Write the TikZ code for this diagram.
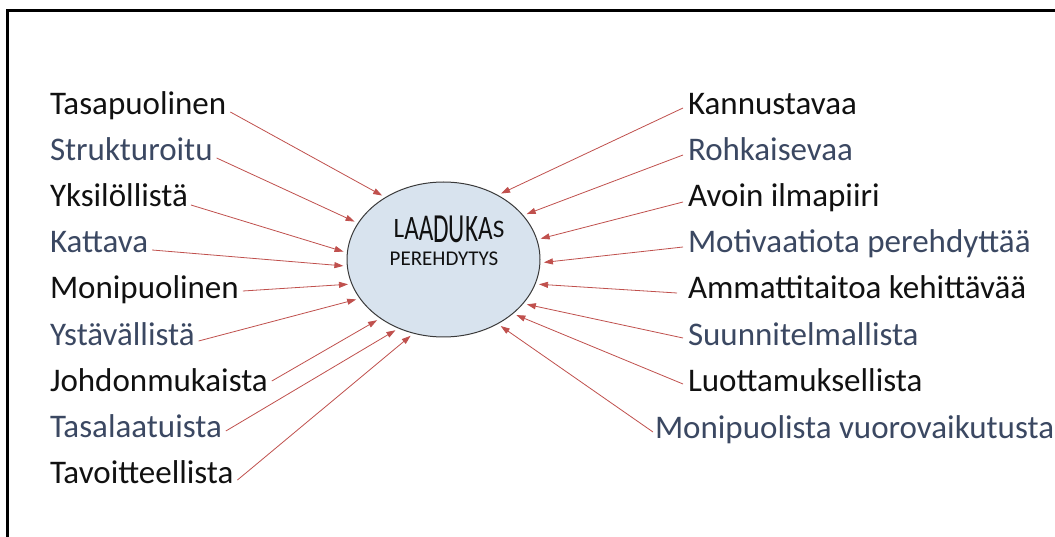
\documentclass[tikz,border=0pt]{standalone}
\usepackage{fontspec}
\setmainfont{Carlito}
\usetikzlibrary{shapes.geometric,arrows.meta}
\definecolor{txtblue}{HTML}{3B4862}
\definecolor{txtblack}{HTML}{111111}
\definecolor{arrred}{HTML}{C0504D}
\definecolor{ellfill}{HTML}{D8E3EE}
\definecolor{ellline}{HTML}{3A3A3A}
\newcommand{\wa}[2]{\raisebox{-0.5\height}{\scalebox{0.70}[#2]{#1}}}
\newcommand{\lblfont}{\fontsize{33}{38}\selectfont}
\begin{document}
\begin{tikzpicture}[x=1pt,y=-1pt,
  lbl/.style={anchor=base west, inner sep=0pt, outer sep=0pt, font=\lblfont},
  dk/.style={lbl, text=txtblack},
  bl/.style={lbl, text=txtblue},
  arr/.style={draw=arrred, line width=0.8pt, -{Triangle[length=9pt,width=6pt]}, shorten >=4pt},
  ell/.style={ellipse, draw=ellline, line width=1pt, fill=ellfill, inner sep=0pt, outer sep=0pt,
    minimum width=193pt, minimum height=155pt}]
\clip (0,0) rectangle (1055,537);
\fill[white] (0,0) rectangle (1055,537);
\draw[line width=3pt] (7,11) rectangle (1080,570);

\node[ell] (e) at (443.5,259.5) {};
\node[inner sep=0pt, text=txtblack] (t1) at (449,229) {\fontsize{36}{36}\selectfont\wa{L}{0.78}\wa{A}{0.95}\wa{A}{1.05}\wa{D}{1.15}\wa{U}{1.15}\wa{K}{1.08}\wa{A}{0.95}\wa{S}{0.7}};
\node[anchor=base, inner sep=0pt, text=txtblack, font=\fontsize{21}{21}\selectfont] (t2) at (444,266) {PEREHDYTYS};

% left labels
\node[dk] (l1) at (50,115) {Tasapuolinen};
\node[bl] (l2) at (50,161) {Strukturoitu};
\node[dk] (l3) at (50,207) {Yksilöllistä};
\node[bl] (l4) at (50,253) {Kattava};
\node[dk] (l5) at (50,299) {Monipuolinen};
\node[bl] (l6) at (50,345) {Ystävällistä};
\node[dk] (l7) at (50,391) {Johdonmukaista};
\node[bl] (l8) at (50,437) {Tasalaatuista};
\node[dk] (l9) at (50,483) {Tavoitteellista};

% right labels
\node[dk] (r1) at (688,115) {Kannustavaa};
\node[bl] (r2) at (688,161) {Rohkaisevaa};
\node[dk] (r3) at (688,207) {Avoin ilmapiiri};
\node[bl] (r4) at (688,253) {Motivaatiota perehdyttää};
\node[dk] (r5) at (688,299) {Ammattitaitoa kehittävää};
\node[bl] (r6) at (688,345) {Suunnitelmallista};
\node[dk] (r7) at (688,391) {Luottamuksellista};
\node[bl] (r8) at (655,438) {Monipuolista vuorovaikutusta};

% left arrows
\draw[arr] ([shift={(4,-3)}]l1.base east) -- (e.133);
\draw[arr] ([shift={(4,-3)}]l2.base east) -- (e.157);
\draw[arr] ([shift={(3,-2)}]l3.base east) -- (e.176);
\draw[arr] ([shift={(4,-3)}]l4.base east) -- (e.184);
\draw[arr] ([shift={(4,-8)}]l5.base east) -- (e.195);
\draw[arr] ([shift={(4,-4)}]l6.base east) -- (e.205);
\draw[arr] ([shift={(4,-10)}]l7.base east) -- (e.223);
\draw[arr] ([shift={(4,-6)}]l8.base east) -- (e.237);
\draw[arr] ([shift={(4,-3)}]l9.base east) -- (e.248);

% right arrows
\draw[arr] ([shift={(-5,-7)}]r1.base west) -- (e.50);
\draw[arr] ([shift={(-5,-6)}]r2.base west) -- (e.29);
\draw[arr] ([shift={(-5,-5)}]r3.base west) -- (e.12);
\draw[arr] ([shift={(-5,-6)}]r4.base west) -- (e.358);
\draw[arr] ([shift={(-11,-6)}]r5.base west) -- (e.345);
\draw[arr] ([shift={(-5,-7)}]r6.base west) -- (e.331);
\draw[arr] ([shift={(-5,-7)}]r7.base west) -- (e.322);
\draw[arr] ([shift={(-2,-6)}]r8.base west) -- (e.310);
\end{tikzpicture}
\end{document}
